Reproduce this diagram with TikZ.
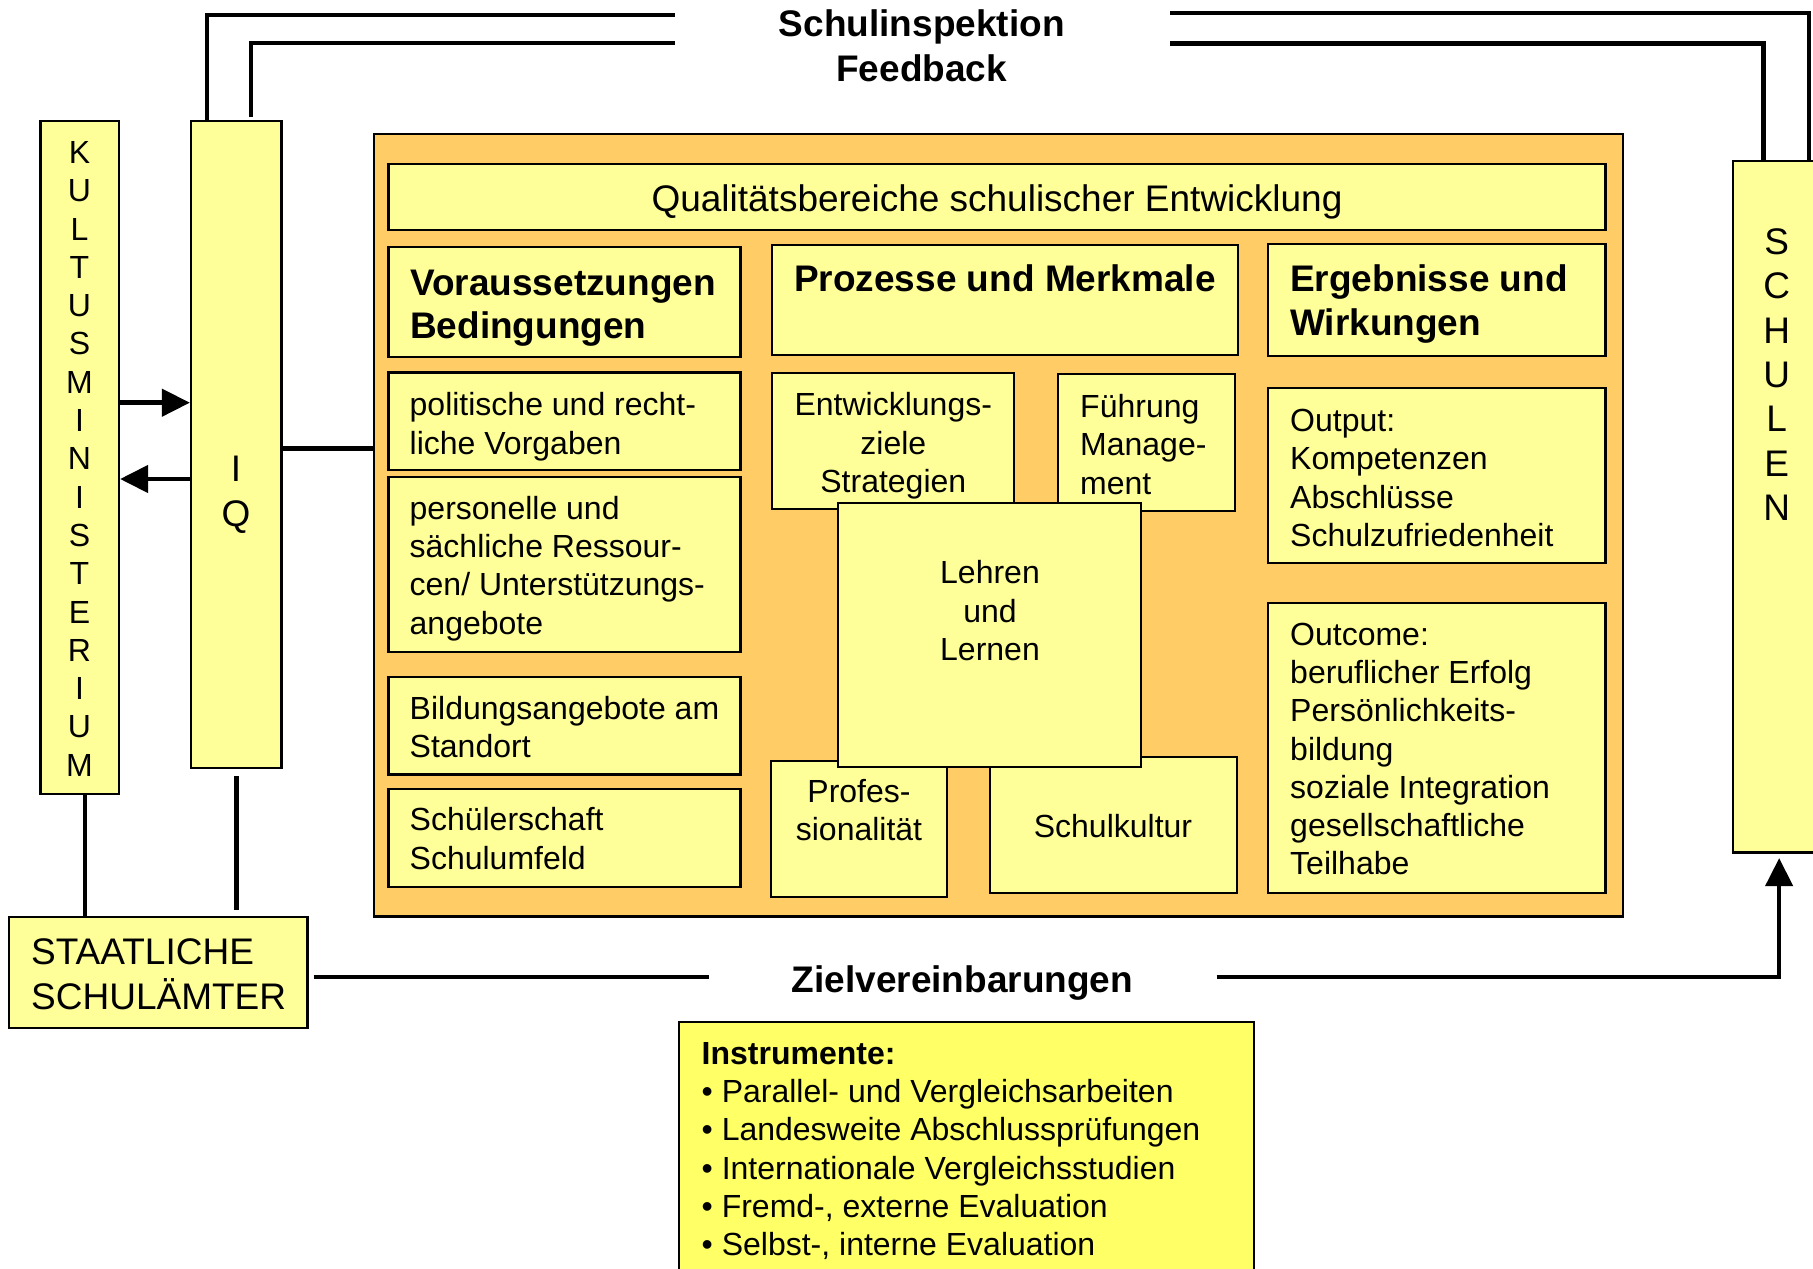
\documentclass[tikz,border=0pt]{standalone}
\usepackage{fontspec}
\setmainfont{Liberation Sans}
\usetikzlibrary{arrows.meta}
\definecolor{paleY}{HTML}{FFFF99}
\definecolor{orng}{HTML}{FFCC66}
\definecolor{brightY}{HTML}{FFFF66}
\newcommand\fs[2]{\fontsize{#1}{#2}\selectfont}
\newcommand\fl{\rule{0pt}{1em}}
\begin{document}
\begin{tikzpicture}[x=1pt,y=-1pt,
  box/.style={draw=black,line width=2.2pt,fill=paleY,inner sep=0pt,rectangle},
  txt/.style={inner sep=0pt,font=\fs{32}{38.3}},
  big/.style={inner sep=0pt,font=\fs{37}{44}},
  bigb/.style={inner sep=0pt,font=\fs{37}{43}\bfseries},
  conn/.style={line width=4.5pt,draw=black},
  tip/.style={-{Triangle[length=28pt,width=27pt]}}]
\useasboundingbox (0,0) rectangle (1813,1269);

% ---------- boxes ----------
\node[box,minimum width=78.5,minimum height=673] (kultus) at (79.75,457.5) {};
\node[box,minimum width=90.5,minimum height=647] (iq) at (236.25,444.5) {};
\node[box,minimum width=91.7,minimum height=691.5] (schulen) at (1779.15,506.75) {};
\node[box,minimum width=298.5,minimum height=111] (staat) at (158.25,972.5) {};
\node[box,fill=orng,minimum width=1248.7,minimum height=782.5] (orange) at (998.35,525.25) {};
\node[box,minimum width=1217,minimum height=65.7] (quali) at (997,197.15) {};
\node[box,minimum width=352,minimum height=110.6] (vor) at (564.5,302) {};
\node[box,minimum width=465.7,minimum height=110] (proz) at (1005.15,300) {};
\node[box,minimum width=337.2,minimum height=111.7] (erg) at (1436.9,299.85) {};
\node[box,minimum width=352,minimum height=97.5] (pol) at (564.5,421.25) {};
\node[box,minimum width=352,minimum height=174.4] (pers) at (564.5,564.5) {};
\node[box,minimum width=352,minimum height=97.8] (bild) at (564.5,725.6) {};
\node[box,minimum width=352,minimum height=98] (schue) at (564.5,838) {};
\node[box,minimum width=241.7,minimum height=136.6] (entw) at (893.15,441) {};
\node[box,minimum width=176.7,minimum height=136.7] (fuehr) at (1146.65,442.65) {};
\node[box,minimum width=176.6,minimum height=136] (prof) at (859,828.7) {};
\node[box,minimum width=246.7,minimum height=136.6] (kult) at (1113.35,825) {};
\node[box,minimum width=302.7,minimum height=264.6] (lehr) at (989.65,635) {};
\node[box,minimum width=337.2,minimum height=175] (out) at (1436.9,475.8) {};
\node[box,minimum width=337.2,minimum height=290] (outc) at (1436.9,747.7) {};
\node[box,fill=brightY,minimum width=575.3,minimum height=268.3] (instr) at (966.65,1155.85) {};

% ---------- texts ----------
\node[bigb,anchor=north,align=center,font=\fs{37}{45}\bfseries] (tfb) at (921.7,-1) {\fl Schulinspektion\\Feedback};
\node[big,anchor=north] (tquali) at (997,174.2) {\fl Qualitätsbereiche schulischer Entwicklung};
\node[bigb,anchor=north west,align=left] (tvor) at (410,258.5) {\fl Voraussetzungen\\Bedingungen};
\node[bigb,anchor=north] (tproz) at (1005,254.5) {\fl Prozesse und Merkmale};
\node[bigb,anchor=north west,align=left,font=\fs{37}{44}\bfseries] (terg) at (1290,254.5) {\fl Ergebnisse und\\Wirkungen};
\node[txt,anchor=north west,align=left] (tpol) at (409.5,383.6) {\fl politische und recht-\\liche Vorgaben};
\node[txt,anchor=north west,align=left] (tpers) at (409.5,486.9) {\fl personelle und\\sächliche Ressour-\\cen/ Unterstützungs-\\angebote};
\node[txt,anchor=north west,align=left] (tbild) at (409.5,686.9) {\fl Bildungsangebote am\\Standort};
\node[txt,anchor=north west,align=left] (tschue) at (409.5,798.6) {\fl Schülerschaft\\Schulumfeld};
\node[txt,anchor=north,align=center] (tentw) at (893.3,383.6) {\fl Entwicklungs-\\ziele\\Strategien};
\node[txt,anchor=north west,align=left] (tfuehr) at (1080,385.3) {\fl Führung\\Manage-\\ment};
\node[txt,anchor=north,align=center] (tlehr) at (990,551.6) {\fl Lehren\\und\\Lernen};
\node[txt,anchor=north,align=center] (tprof) at (859,770.3) {\fl Profes-\\sionalität};
\node[txt,anchor=north] (tkult) at (1113,805.3) {\fl Schulkultur};
\node[txt,anchor=north west,align=left] (tout) at (1290,399.3) {\fl Output:\\Kompetenzen\\Abschlüsse\\Schulzufriedenheit};
\node[txt,anchor=north west,align=left] (toutc) at (1290,612.9) {\fl Outcome:\\beruflicher Erfolg\\Persönlichkeits-\\bildung\\soziale Integration\\gesellschaftliche\\Teilhabe};
\node[big,anchor=north west,align=left,font=\fs{37}{44.7}] (tstaat) at (31,927.3) {\fl STAATLICHE\\SCHULÄMTER};
\node[bigb,anchor=north] (tziel) at (962.5,955.2) {\fl Zielvereinbarungen};
\node[txt,anchor=north west,align=left] (tinstr) at (701.5,1031.9) {\fl\textbf{Instrumente:}\\• Parallel- und Vergleichsarbeiten\\• Landesweite Abschlussprüfungen\\• Internationale Vergleichsstudien\\• Fremd-, externe Evaluation\\• Selbst-, interne Evaluation};
\node[txt,anchor=north,align=center] (tkultus) at (79.5,131.2) {\fl K\\U\\L\\T\\U\\S\\M\\I\\N\\I\\S\\T\\E\\R\\I\\U\\M};
\node[big,anchor=north,align=center,font=\fs{37}{44.2}] (tiq) at (236,444.6) {\fl I\\Q};
\node[big,anchor=north,align=center,font=\fs{37}{44.3}] (tschulen) at (1776.7,217.3) {\fl S\\C\\H\\U\\L\\E\\N};

% ---------- connectors ----------
\coordinate (fbL1) at (675,15);
\coordinate (fbL2) at (675,43);
\coordinate (fbR1) at (1170,13);
\coordinate (fbR2) at (1170,43.4);
\coordinate (r1) at (0,402.7);
\coordinate (r2) at (0,479);
\coordinate (r3) at (0,448.3);
\coordinate (zL) at (709.4,976.8);
\coordinate (zR) at (1216.7,976.8);

\draw[conn] ([xshift=-29.5pt]iq.north) |- (fbL1);
\draw[conn] ([xshift=14.5pt,yshift=3pt]iq.north) |- (fbL2);
\draw[conn] (fbR1) -| ([xshift=29.85pt]schulen.north);
\draw[conn] (fbR2) -| ([xshift=-15.85pt]schulen.north);

\draw[conn,tip] (kultus.east |- r1) -- (iq.west |- r1);
\draw[conn,tip] (iq.west |- r2) -- (kultus.east |- r2);
\draw[conn] (iq.east |- r3) -- (orange.west |- r3);

\draw[conn] ([xshift=5.3pt]kultus.south) -- ([xshift=5.3pt]kultus.south |- staat.north);
\draw[conn] ([yshift=-7pt]iq.south) -- ([yshift=6pt]iq.south |- staat.north);

\draw[conn] ([xshift=5pt]staat.east |- zL) -- (zL);
\draw[conn,tip] (zR) -| ([yshift=-4.5pt]schulen.south);
\end{tikzpicture}
\end{document}
